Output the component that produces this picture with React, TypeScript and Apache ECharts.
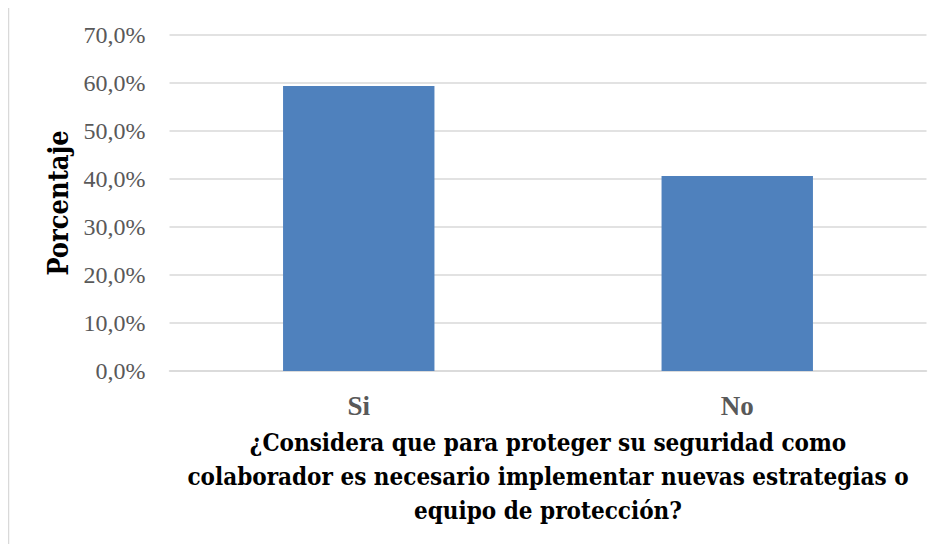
import React, { useEffect, useRef } from "react";
import * as echarts from "echarts";

const categories = ["Si", "No"];
const values = [59.4, 40.6];
const yTicks = [0, 10, 20, 30, 40, 50, 60, 70];
const xTitle = "¿Considera que para proteger su seguridad como\ncolaborador es necesario implementar nuevas estrategias o\nequipo de protección?";
const yTitle = "Porcentaje";

const titleFont = "'DejaVu Serif Condensed', 'DejaVu Serif', serif";

export default function App() {
  const ref = useRef<HTMLDivElement>(null);
  useEffect(() => {
    const chart = echarts.init(ref.current!, null, { renderer: "svg" });
    chart.setOption({
      animation: false,
      backgroundColor: "#ffffff",
      graphic: [
        {
          type: "rect",
          shape: { x: 8.5, y: 6.5, width: 940, height: 560 },
          style: { fill: "none", stroke: "#d9d9d9", lineWidth: 1.5 },
          silent: true,
        },
      ],
      grid: { left: 169.5, right: 15.5, top: 35, bottom: 181, containLabel: false },
      xAxis: {
        type: "category",
        data: categories,
        axisLine: { lineStyle: { color: "#d9d9d9", width: 1.5 } },
        axisTick: { show: false },
        axisLabel: {
          margin: 21,
          fontFamily: "Liberation Serif",
          fontWeight: "bold",
          fontSize: 27,
          color: "#595959",
        },
        name: xTitle,
        nameLocation: "middle",
        nameGap: 54,
        nameTextStyle: {
          fontFamily: titleFont,
          fontWeight: "bold",
          fontSize: 24,
          lineHeight: 34,
          color: "#000000",
          verticalAlign: "top",
        },
      },
      yAxis: {
        type: "value",
        min: 0,
        max: 70,
        interval: 10,
        axisLine: { show: false },
        axisTick: { show: false },
        splitLine: { lineStyle: { color: "#d9d9d9", width: 1.5 } },
        axisLabel: {
          margin: 24,
          fontFamily: "Liberation Serif",
          fontSize: 24,
          color: "#595959",
          formatter: (v: number) => (yTicks.includes(v) ? v.toFixed(1).replace(".", ",") + "%" : ""),
        },
        name: yTitle,
        nameLocation: "middle",
        nameGap: 98,
        nameRotate: 90,
        nameTextStyle: {
          fontFamily: titleFont,
          fontWeight: "bold",
          fontSize: 27,
          color: "#000000",
        },
      },
      series: [
        {
          type: "bar",
          data: values,
          barWidth: "40%",
          itemStyle: { color: "#4f81bd" },
        },
      ],
    });
    return () => chart.dispose();
  }, []);
  return <div ref={ref} style={{ width: 942, height: 552, margin: -8 }} />;
}
